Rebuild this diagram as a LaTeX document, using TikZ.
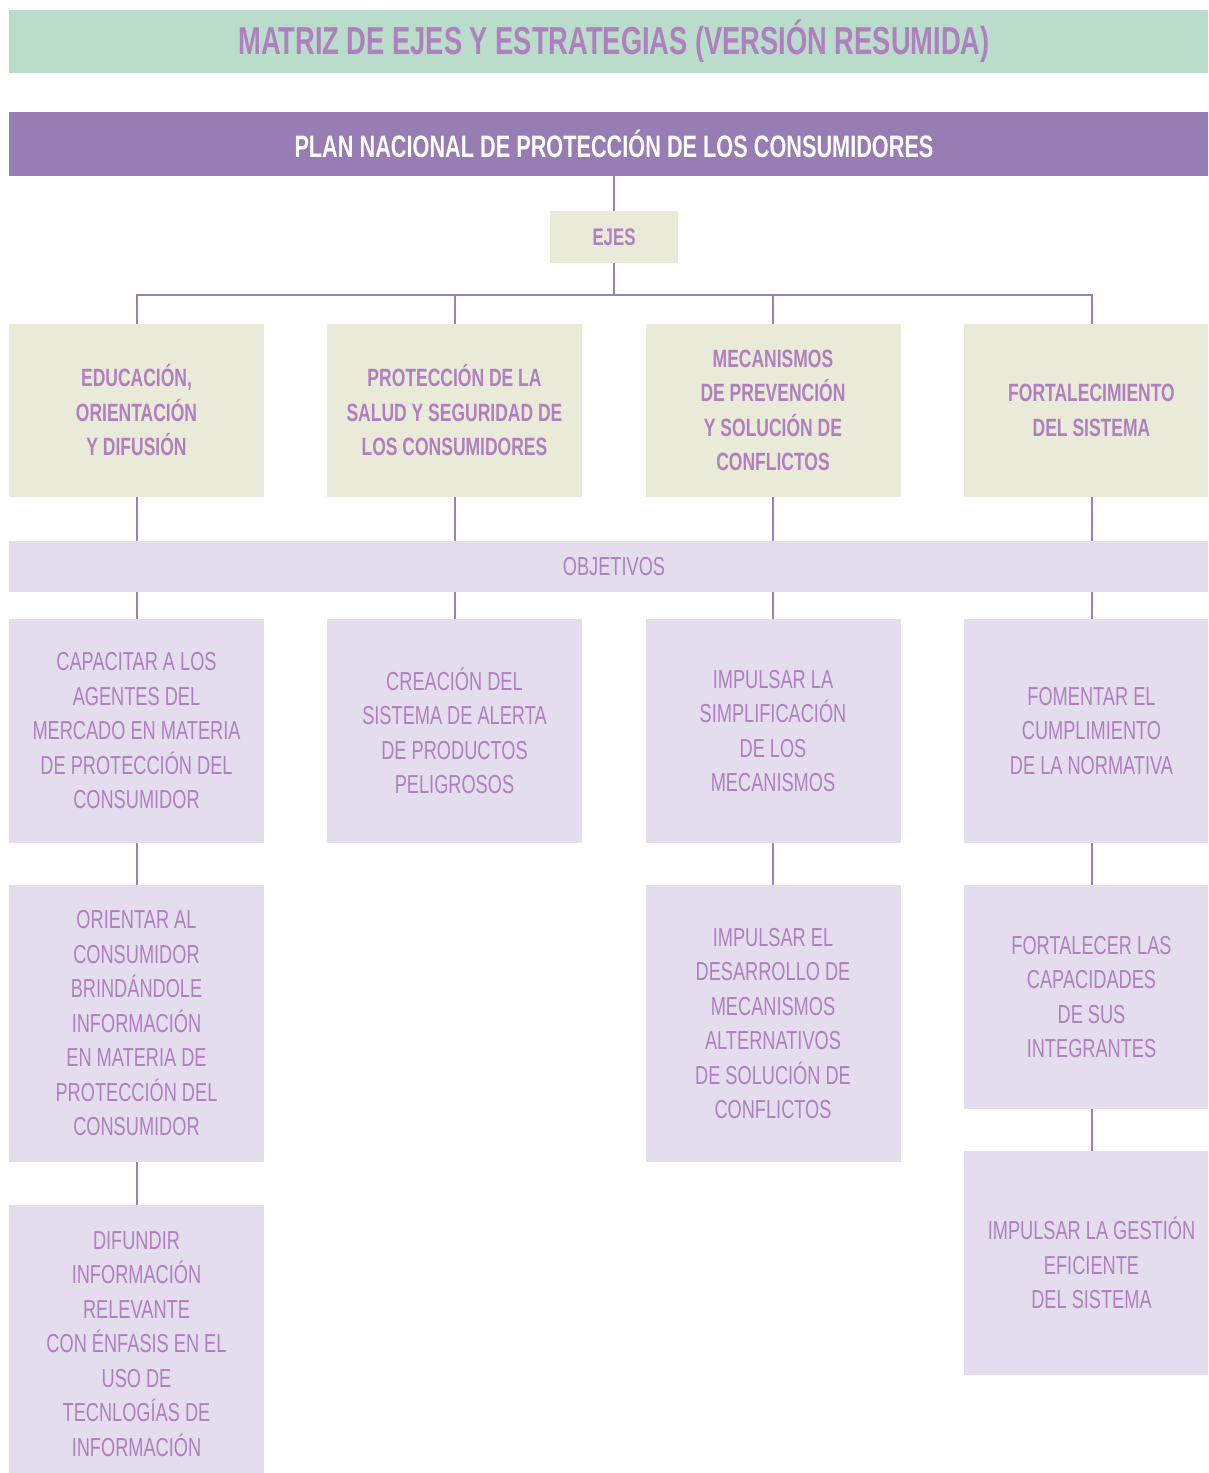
\documentclass[tikz,border=0pt]{standalone}
\usepackage{fontspec}
\setmainfont[FakeStretch=0.7]{Liberation Sans}
\definecolor{titlebg}{HTML}{BADCCB}
\definecolor{planbg}{HTML}{977DB4}
\definecolor{axisbg}{HTML}{E9EBD8}
\definecolor{objbg}{HTML}{E3DDED}
\definecolor{linec}{HTML}{9A80B6}
\definecolor{txt}{HTML}{B07FC0}
\begin{document}
\begin{tikzpicture}[x=1pt,y=-1pt,
  box/.style={inner sep=0pt, outer sep=0pt, align=center, text=txt},
  bar/.style={box, minimum width=1210pt},
  axisbox/.style={box, fill=axisbg, minimum width=255pt, minimum height=173pt,
    font=\bfseries\fontsize{25}{34.5}\selectfont},
  objbox/.style={box, fill=objbg, minimum width=255pt,
    font=\fontsize{26}{34.5}\selectfont},
  conn/.style={draw=linec, line width=2pt}
]
\useasboundingbox (0,0) rectangle (1208,1473);
\clip (0,0) rectangle (1208,1473);

% bars
\node[bar, fill=titlebg, minimum height=63pt, font=\bfseries\fontsize{39}{41}\selectfont] (title) at (614,41.5)
  {MATRIZ DE EJES Y ESTRATEGIAS (VERSIÓN RESUMIDA)};
\node[bar, fill=planbg, minimum height=64pt, text=white, font=\bfseries\fontsize{31}{34}\selectfont] (plan) at (614,144)
  {PLAN NACIONAL DE PROTECCIÓN DE LOS CONSUMIDORES};
\node[box, fill=axisbg, minimum width=128pt, minimum height=52pt, font=\bfseries\fontsize{24}{30}\selectfont] (ejes) at (614,237) {EJES};
\coordinate (bus) at (614,295);

% axis boxes
\node[axisbox] (a1) at (136.5,410.5) {EDUCACIÓN,\\ORIENTACIÓN\\Y DIFUSIÓN};
\node[axisbox] (a2) at (454.5,410.5) {PROTECCIÓN DE LA\\SALUD Y SEGURIDAD DE\\LOS CONSUMIDORES};
\node[axisbox] (a3) at (773,410.5) {MECANISMOS\\DE PREVENCIÓN\\Y SOLUCIÓN DE\\CONFLICTOS};
\node[axisbox] (a4) at (1091.5,410.5) {FORTALECIMIENTO\\DEL SISTEMA};

% objetivos bar
\node[bar, fill=objbg, minimum height=51pt, font=\fontsize{26}{30}\selectfont] (obj) at (614,566.5) {OBJETIVOS};

% objective boxes
\node[objbox, minimum height=224pt] (o11) at (136.5,731) {CAPACITAR A LOS\\AGENTES DEL\\MERCADO EN MATERIA\\DE PROTECCIÓN DEL\\CONSUMIDOR};
\node[objbox, minimum height=277pt] (o12) at (136.5,1023.5) {ORIENTAR AL\\CONSUMIDOR\\BRINDÁNDOLE\\INFORMACIÓN\\EN MATERIA DE\\PROTECCIÓN DEL\\CONSUMIDOR};
\node[objbox, minimum height=278pt] (o13) at (136.5,1344) {DIFUNDIR\\INFORMACIÓN\\RELEVANTE\\CON ÉNFASIS EN EL\\USO DE\\TECNLOGÍAS DE\\INFORMACIÓN};

\node[objbox, minimum height=224pt] (o21) at (454.5,731) {CREACIÓN DEL\\SISTEMA DE ALERTA\\DE PRODUCTOS\\PELIGROSOS};

\node[objbox, minimum height=224pt] (o31) at (773,731) {IMPULSAR LA\\SIMPLIFICACIÓN\\DE LOS\\MECANISMOS};
\node[objbox, minimum height=277pt] (o32) at (773,1023.5) {IMPULSAR EL\\DESARROLLO DE\\MECANISMOS\\ALTERNATIVOS\\DE SOLUCIÓN DE\\CONFLICTOS};

\node[objbox, minimum height=224pt] (o41) at (1091.5,731) {FOMENTAR EL\\CUMPLIMIENTO\\DE LA NORMATIVA};
\node[objbox, minimum height=224pt] (o42) at (1091.5,997) {FORTALECER LAS\\CAPACIDADES\\DE SUS\\INTEGRANTES};
\node[objbox, minimum height=224pt] (o43) at (1091.5,1263) {IMPULSAR LA GESTIÓN\\EFICIENTE\\DEL SISTEMA};

% connectors
\draw[conn] (plan.south) -- (ejes.north);
\draw[conn] (ejes.south) -- (bus);
\draw[conn] (a1.north) |- (bus) -| (a4.north);
\draw[conn] (a2.north) -- (a2.north |- bus);
\draw[conn] (a3.north) -- (a3.north |- bus);
\foreach \i in {1,2,3,4}{
  \draw[conn] (a\i.south) -- (a\i.south |- obj.north);
}
\draw[conn] (o11.north |- obj.south) -- (o11.north);
\draw[conn] (o21.north |- obj.south) -- (o21.north);
\draw[conn] (o31.north |- obj.south) -- (o31.north);
\draw[conn] (o41.north |- obj.south) -- (o41.north);
\draw[conn] (o11.south) -- (o12.north);
\draw[conn] (o12.south) -- (o13.north);
\draw[conn] (o31.south) -- (o32.north);
\draw[conn] (o41.south) -- (o42.north);
\draw[conn] (o42.south) -- (o43.north);
\end{tikzpicture}
\end{document}
